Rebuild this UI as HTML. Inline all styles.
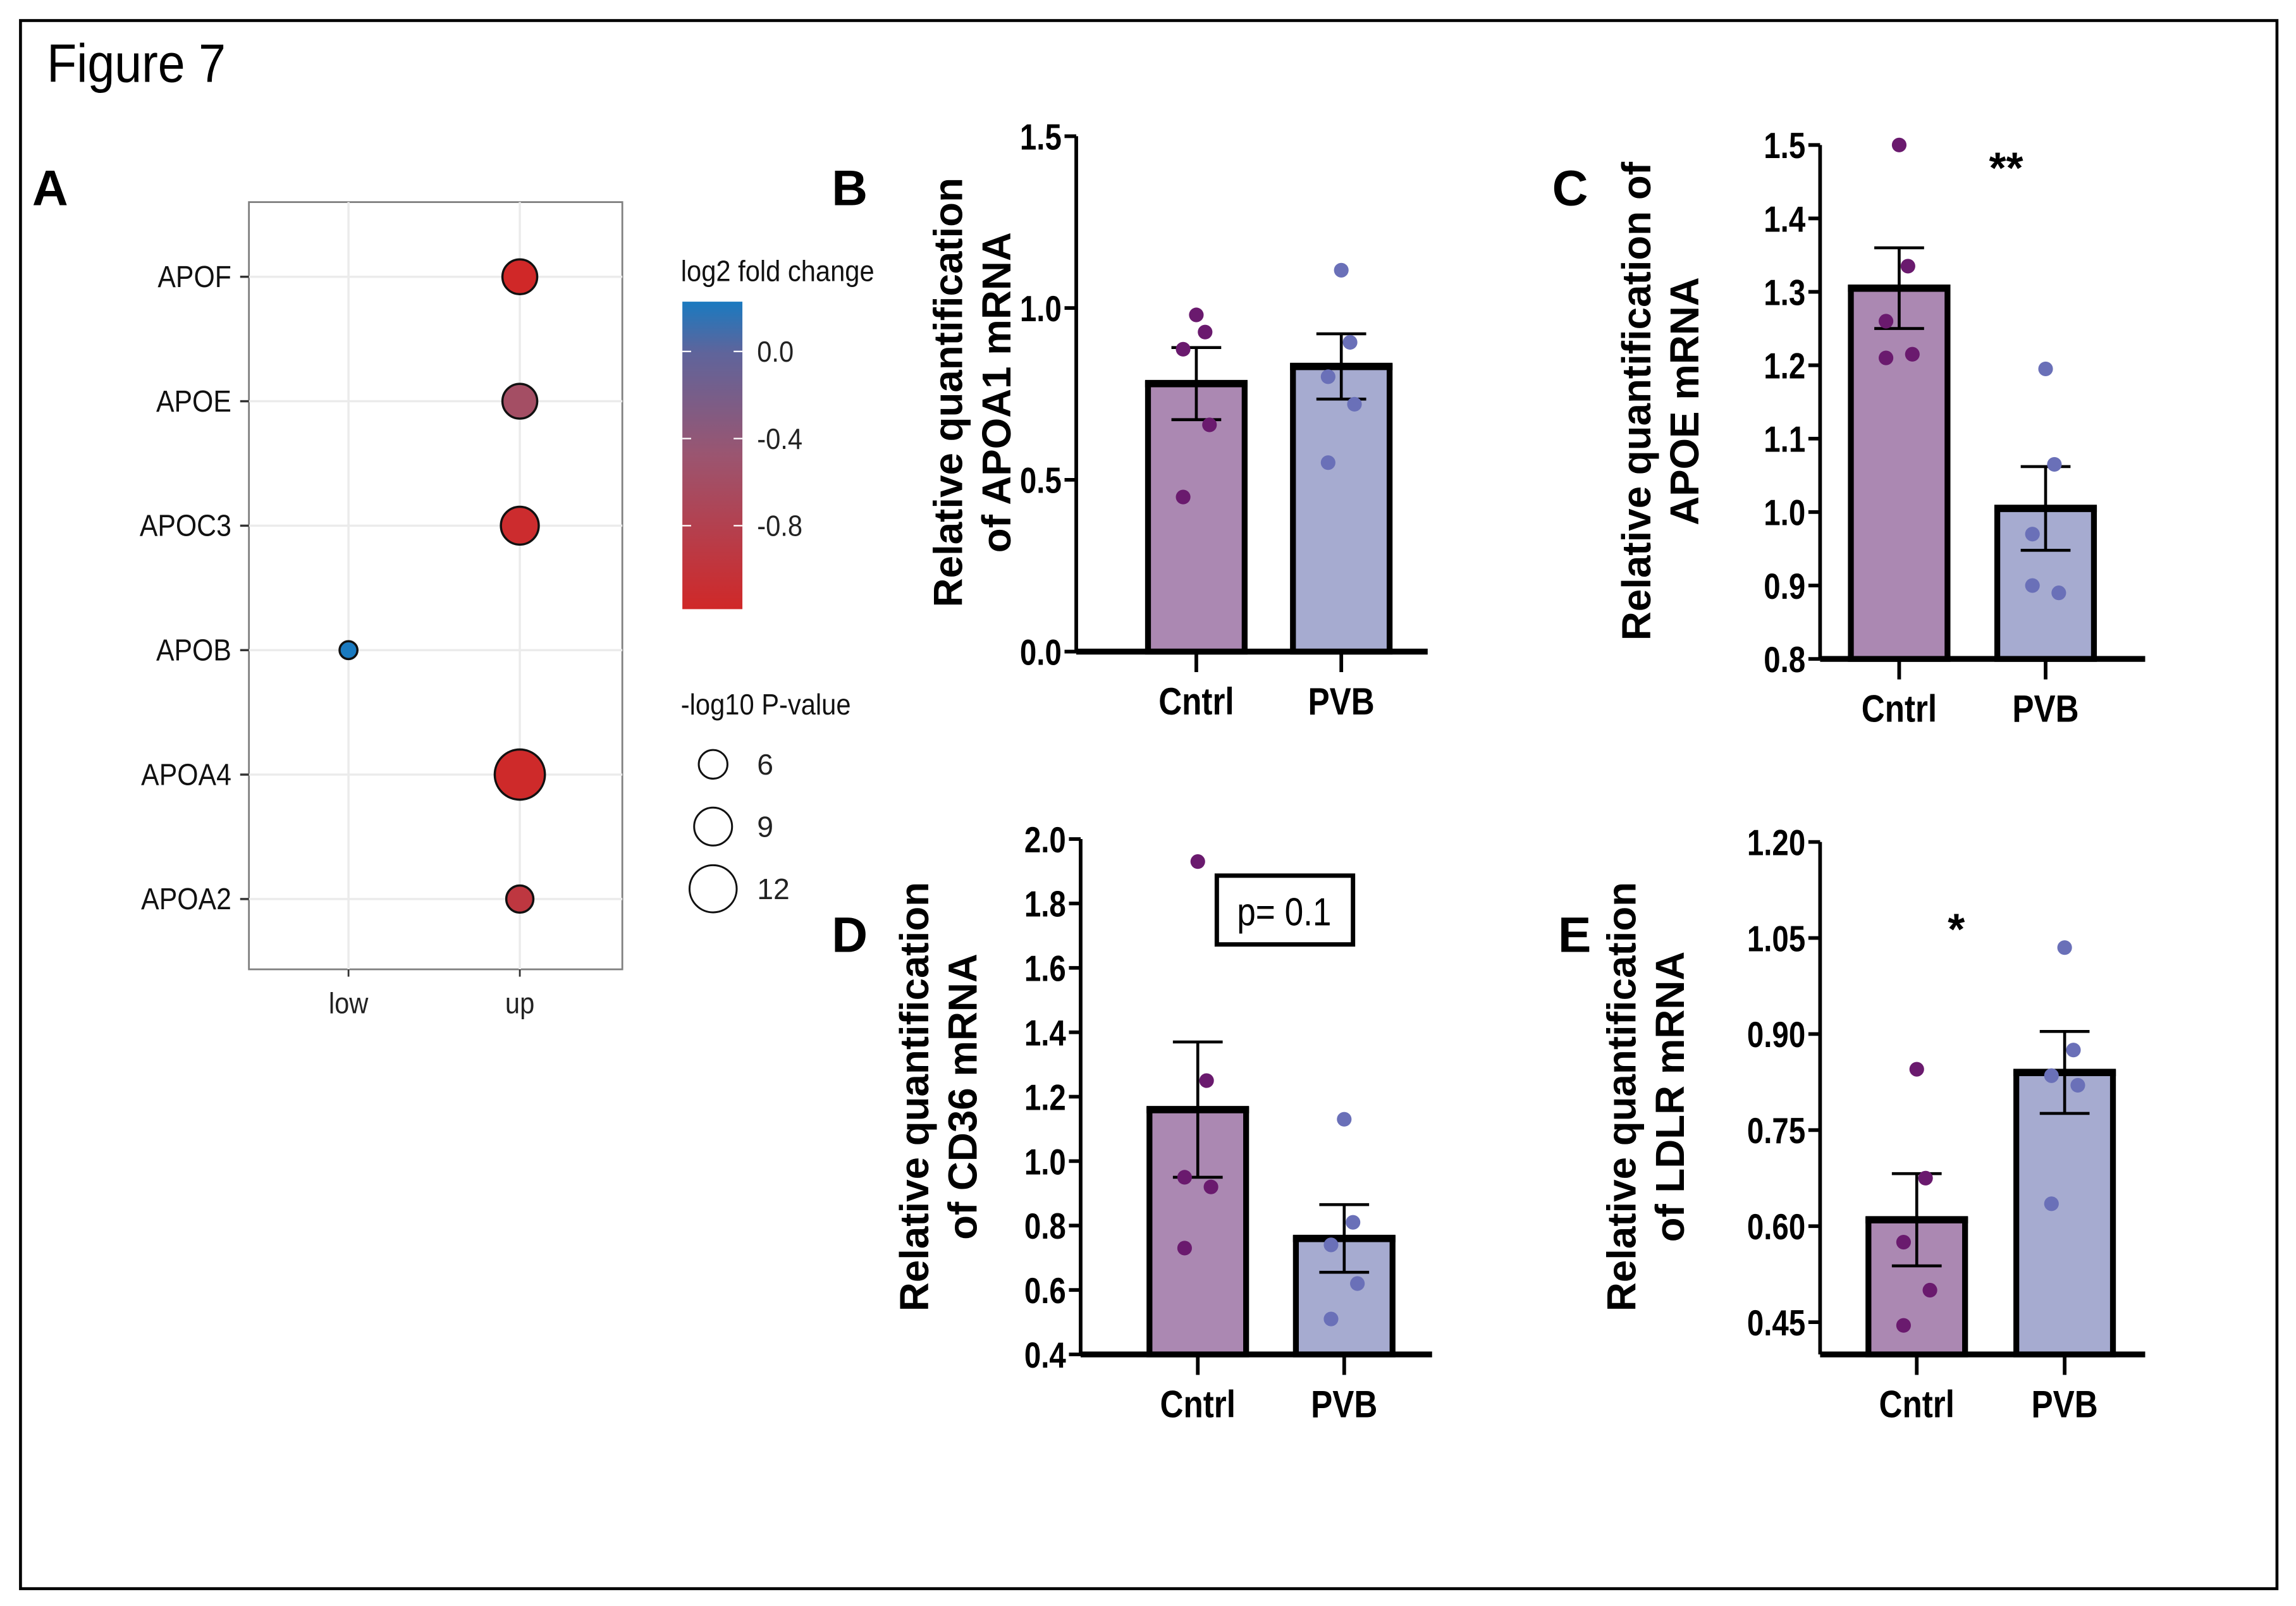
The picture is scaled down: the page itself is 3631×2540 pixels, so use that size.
<!DOCTYPE html>
<html><head><meta charset="utf-8">
<style>
html,body{margin:0;padding:0;background:#fff;}
svg{display:block;}
text{font-family:"Liberation Sans",sans-serif;}
.nar{font-family:"Liberation Sans Narrow","Liberation Sans",sans-serif;font-weight:bold;}
</style></head>
<body>
<svg id="fig" width="3631" height="2540" viewBox="0 0 1568 1096.8" xmlns="http://www.w3.org/2000/svg">
<rect x="14" y="14" width="1541" height="1071" fill="#fff" stroke="#000" stroke-width="2"/>
<text x="32" y="56" font-size="37" transform="translate(32,56) scale(0.9,1) translate(-32,-56)">Figure 7</text>
<text x="22" y="140" font-size="34" font-weight="bold">A</text>
<text x="568" y="140" font-size="34" font-weight="bold">B</text>
<text x="1060" y="140" font-size="34" font-weight="bold">C</text>
<text x="568" y="650" font-size="34" font-weight="bold">D</text>
<text x="1064" y="650" font-size="34" font-weight="bold">E</text>
<g id="panelA"></g>
<g id="panels"></g>
</svg>
<script>
// ===== Panel A data =====
const genes = ["APOF","APOE","APOC3","APOB","APOA4","APOA2"];
const geneDir = ["up","up","up","low","up","up"];
const geneLogFC = [-1.0,-0.5,-0.95,0.2,-0.98,-0.8];
const geneLogP = [7.5,7.5,8.5,2,12.5,5];
const dirCats = ["low","up"];
const fcTicks = [0.0,-0.4,-0.8];
const pSizes = [6,9,12];

// ===== Bar panels data =====
const groups = ["Cntrl","PVB"];
const bMeans = [0.78,0.83];
const bSem = [0.105,0.095];
const bCntrl = [0.98,0.93,0.88,0.66,0.45];
const bPVB = [1.11,0.90,0.80,0.72,0.55];
const bTicks = ["0.0","0.5","1.0","1.5"];
const cMeans = [1.305,1.005];
const cSem = [0.055,0.057];
const cCntrl = [1.50,1.335,1.26,1.215,1.21];
const cPVB = [1.195,1.065,0.97,0.89,0.90];
const cTicks = ["0.8","0.9","1.0","1.1","1.2","1.3","1.4","1.5"];
const dMeans = [1.16,0.76];
const dSem = [0.21,0.105];
const dCntrl = [1.93,1.25,0.95,0.92,0.73];
const dPVB = [1.13,0.81,0.74,0.62,0.51];
const dTicks = ["0.4","0.6","0.8","1.0","1.2","1.4","1.6","1.8","2.0"];
const eMeans = [0.61,0.84];
const eSem = [0.072,0.064];
const eCntrl = [0.845,0.675,0.575,0.50,0.445];
const ePVB = [1.035,0.875,0.835,0.82,0.635];
const eTicks = ["0.45","0.60","0.75","0.90","1.05","1.20"];

const NS="http://www.w3.org/2000/svg";
function mk(parent,tag,attrs,txt){const e=document.createElementNS(NS,tag);for(const k in attrs)e.setAttribute(k,attrs[k]);if(txt!==undefined)e.textContent=txt;parent.appendChild(e);return e;}

const FC_STOPS=[[0.2,[26,122,192]],[0.0,[95,100,155]],[-0.4,[155,85,112]],[-1.0,[208,40,40]]];
function fcColor(v){
  v=Math.max(-1.0,Math.min(0.2,v));
  for(let i=0;i<FC_STOPS.length-1;i++){
    const [a,ca]=FC_STOPS[i],[b,cb]=FC_STOPS[i+1];
    if(v<=a&&v>=b){const t=(a-v)/(a-b);const c=ca.map((x,k)=>Math.round(x+(cb[k]-x)*t));return `rgb(${c[0]},${c[1]},${c[2]})`;}
  }
  return 'rgb(208,40,40)';
}
function pRadius(p){return 4+p*1.05;}
function sx(x,y,f){return `translate(${x},${y}) scale(${f},1) translate(${-x},${-y})`;}

// ===== Panel A =====
(function(){
  const g=document.getElementById('panelA');
  const x0=170,x1=425,y0=138,y1=662;
  const xDir=d=>d==="low"?238:355;
  const yGene=i=>189+i*85;
  const box=mk(g,'rect',{x:x0,y:y0,width:x1-x0,height:y1-y0,fill:'#fff',stroke:'#7f7f7f','stroke-width':1.2});
  
  
  dirCats.forEach(d=>{
    const l=mk(g,'line',{x1:xDir(d),x2:xDir(d),y1:y0,y2:y1,stroke:'#ebebeb','stroke-width':1.5});
    
    
    mk(g,'line',{x1:xDir(d),x2:xDir(d),y1:y1,y2:y1+5,stroke:'#333','stroke-width':1.2});
    const t=mk(g,'text',{x:xDir(d),y:y1+30,'text-anchor':'middle','font-size':20,fill:'#222',transform:sx(xDir(d),y1+30,0.9)},d);
    
    
  });
  genes.forEach((gn,i)=>{
    const y=yGene(i);
    const l=mk(g,'line',{x1:x0,x2:x1,y1:y,y2:y,stroke:'#ebebeb','stroke-width':1.5});
    
    
    mk(g,'line',{x1:x0-6,x2:x0,y1:y,y2:y,stroke:'#333','stroke-width':1.5});
    const t=mk(g,'text',{x:x0-12,y:y+7,'text-anchor':'end','font-size':21,fill:'#111',transform:sx(x0-12,y+7,0.88)},gn);
    
    
  });
  genes.forEach((gn,i)=>{
    const c=mk(g,'circle',{cx:xDir(geneDir[i]),cy:yGene(i),r:pRadius(geneLogP[i]),fill:fcColor(geneLogFC[i]),stroke:'#111','stroke-width':1.5});
    
    
  });
  const lt=mk(g,'text',{x:465,y:192,'font-size':20,fill:'#111',transform:sx(465,192,0.9)},'log2 fold change');
  
  
  const defs=mk(g,'defs',{});
  const grad=mk(defs,'linearGradient',{id:'fcg',x1:0,y1:0,x2:0,y2:1});
  FC_STOPS.forEach(([v,c])=>{
    mk(grad,'stop',{offset:((0.2-v)/1.2*100)+'%','stop-color':`rgb(${c[0]},${c[1]},${c[2]})`});
  });
  const cb=mk(g,'rect',{x:466,y:206,width:41,height:210,fill:'url(#fcg)'});
  
  
  fcTicks.forEach(v=>{
    const y=240+(0-v)/0.4*59.5;
    mk(g,'line',{x1:466,x2:472,y1:y,y2:y,stroke:'#fff','stroke-width':1});
    mk(g,'line',{x1:501,x2:507,y1:y,y2:y,stroke:'#fff','stroke-width':1});
    const t=mk(g,'text',{x:517,y:y+7,'font-size':20,fill:'#222',transform:sx(517,y+7,0.9)},v.toFixed(1));
    
    
  });
  const st=mk(g,'text',{x:465,y:488,'font-size':20,fill:'#111',transform:sx(465,488,0.9)},'-log10 P-value');
  
  
  pSizes.forEach((p,i)=>{
    const y=522+i*42.5;
    const c=mk(g,'circle',{cx:487,cy:y,r:pRadius(p)-0.5,fill:'#fff',stroke:'#111','stroke-width':1.3});
    
    
    const t=mk(g,'text',{x:517,y:y+7,'font-size':20,fill:'#222'},String(p));
    
    
  });
})();

// ===== Bar panels =====
const BAR_FILL=["#ab88b2","#a6abd0"];
const DOT_FILL=["#6a1a6e","#6a70b8"];
function barPanel(cfg){
  const g=mk(document.getElementById('panels'),'g',{});
  
  
  const tv=cfg.ticks.map(Number);
  const vmin=tv[0],vmax=tv[tv.length-1];
  const y=v=>cfg.yBot-(v-vmin)/(vmax-vmin)*(cfg.yBot-cfg.yTop);
  const axisBottom=cfg.axisBottom||cfg.yBot;
  groups.forEach((gr,i)=>{
    const cx=cfg.cx[i],hw=33;
    const b=mk(g,'rect',{x:cx-hw,y:y(cfg.means[i]),width:hw*2,height:axisBottom-y(cfg.means[i]),fill:BAR_FILL[i],stroke:'#000','stroke-width':4});
    
    
    mk(g,'line',{x1:cx-hw-2,x2:cx+hw+2,y1:y(cfg.means[i]),y2:y(cfg.means[i]),stroke:'#000','stroke-width':5});
  });
  groups.forEach((gr,i)=>{
    const cx=cfg.cx[i],m=cfg.means[i],s=cfg.sem[i];
    const e=mk(g,'g',{stroke:'#000','stroke-width':2});
    
    
    mk(e,'line',{x1:cx,x2:cx,y1:y(m-s),y2:y(m+s)});
    mk(e,'line',{x1:cx-17,x2:cx+17,y1:y(m+s),y2:y(m+s)});
    mk(e,'line',{x1:cx-17,x2:cx+17,y1:y(m-s),y2:y(m-s)});
  });
  [cfg.c,cfg.p].forEach((arr,i)=>{
    const offs=[0,6,-9,9,-9];
    arr.forEach((v,j)=>{
      const c=mk(g,'circle',{cx:cfg.cx[i]+offs[j],cy:y(v),r:5,fill:DOT_FILL[i]});
      
      
    });
  });
  const ya=mk(g,'line',{x1:cfg.ax,x2:cfg.ax,y1:cfg.yTop,y2:axisBottom,stroke:'#000','stroke-width':2.5});
  
  
  const xa=mk(g,'line',{x1:cfg.ax,x2:cfg.xEnd,y1:axisBottom,y2:axisBottom,stroke:'#000','stroke-width':4});
  
  
  cfg.ticks.forEach(t=>{
    const yy=y(Number(t));
    mk(g,'line',{x1:cfg.ax-8,x2:cfg.ax,y1:yy,y2:yy,stroke:'#000','stroke-width':2.5});
    const tx=mk(g,'text',{x:cfg.ax-10,y:yy+9,'text-anchor':'end','font-size':25,class:'nar',transform:sx(cfg.ax-10,yy+9,0.82)},t);
    
    
  });
  groups.forEach((gr,i)=>{
    mk(g,'line',{x1:cfg.cx[i],x2:cfg.cx[i],y1:axisBottom,y2:axisBottom+14,stroke:'#000','stroke-width':2.5});
    const tx=mk(g,'text',{x:cfg.cx[i],y:axisBottom+43,'text-anchor':'middle','font-size':26,class:'nar',transform:sx(cfg.cx[i],axisBottom+43,0.85)},gr);
    
    
  });
  cfg.title.forEach((line,k)=>{
    const tx=mk(g,'text',{x:0,y:0,'text-anchor':'middle','font-size':27.5,'font-weight':'bold',transform:`translate(${cfg.tx+k*33},${cfg.ty}) rotate(-90)`},line);
    
    
  });
  return g;
}
barPanel({name:'panel-b-apoa1',means:bMeans,sem:bSem,c:bCntrl,p:bPVB,ticks:bTicks,ax:735,xEnd:975,yTop:93,yBot:445,cx:[817,916],title:["Relative quantification","of APOA1 mRNA"],tx:657,ty:268});
const gc=barPanel({name:'panel-c-apoe',means:cMeans,sem:cSem,c:cCntrl,p:cPVB,ticks:cTicks,ax:1243,xEnd:1465,yTop:99,yBot:450,cx:[1297,1397],title:["Relative quantification of","APOE mRNA"],tx:1127,ty:274});
const s1=mk(gc,'text',{x:1370,y:125,'text-anchor':'middle','font-size':30,'font-weight':'bold'},'**');


const gd=barPanel({name:'panel-d-cd36',means:dMeans,sem:dSem,c:dCntrl,p:dPVB,ticks:dTicks,ax:738,xEnd:978,yTop:573,yBot:925,cx:[818,918],title:["Relative quantification","of CD36 mRNA"],tx:634,ty:749});
const pb=mk(gd,'rect',{x:831,y:598,width:93,height:47,fill:'#fff',stroke:'#000','stroke-width':3});


const pt=mk(gd,'text',{x:877,y:632,'text-anchor':'middle','font-size':27,transform:sx(877,632,0.85)},'p= 0.1');


const ge=barPanel({name:'panel-e-ldlr',means:eMeans,sem:eSem,c:eCntrl,p:ePVB,ticks:eTicks,ax:1243,xEnd:1465,yTop:575,yBot:903,axisBottom:925,cx:[1309,1410],title:["Relative quantification","of LDLR mRNA"],tx:1117,ty:749});
const s2=mk(ge,'text',{x:1336,y:645,'text-anchor':'middle','font-size':30,'font-weight':'bold'},'*');


</script>
</body></html>
